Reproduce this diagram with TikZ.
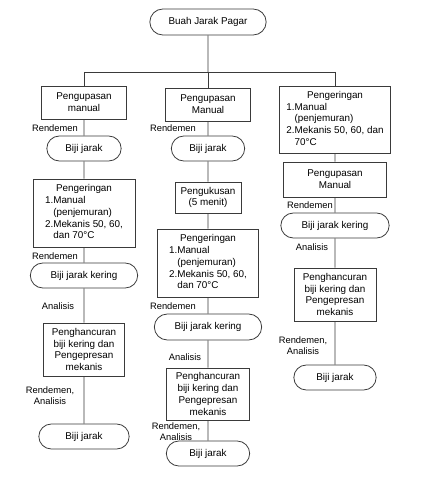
\documentclass[tikz,border=0pt]{standalone}
\usepackage{fontspec}
\setmainfont{Liberation Sans}
\usetikzlibrary{shapes.misc}
\definecolor{edge}{HTML}{3A3A3A}
\tikzset{
  flow/.style={draw=edge, line width=0.6pt},
  box/.style={draw=edge, line width=0.6pt, rectangle, align=center, inner sep=1pt, font=\fontsize{7.4}{8.8}\selectfont},
  term/.style={draw=edge, line width=0.6pt, rounded rectangle, align=center, inner sep=1pt, minimum height=18.75pt, font=\fontsize{7.4}{8.8}\selectfont},
  sz/.style 2 args={minimum width=#1*0.75pt, minimum height=#2*0.75pt},
  lbl/.style={font=\fontsize{7}{8.2}\selectfont, inner sep=0pt, align=center}
}
\newcommand{\dryitems}[2]{\begin{tabular}{@{}l@{}l@{}}\multicolumn{2}{c}{Pengeringan}\\1.&Manual\\&(penjemuran)\\2.&#1\\&#2\end{tabular}}

\begin{document}
\begin{tikzpicture}[x=0.75pt, y=-0.75pt]
  \useasboundingbox (0,0) rectangle (426,495);
  \def\ca{84}
  \def\cb{208}
  \def\cc{335}

  \node[term, sz={119}{26}] (buah) at (\cb,22) {Buah Jarak Pagar};
  \coordinate (jl) at (\ca,72);
  \coordinate (jt) at (\cb,72);
  \coordinate (jr) at (\cc,72);

  % kolom kiri
  \node[box, sz={85}{33}] (p1) at (\ca,102.5) {Pengupasan\\manual};
  \node[term, sz={77}{25}] (b1) at (\ca,148.5) {Biji jarak};
  \node[box, sz={102}{68}] (k1) at (\ca,213) {\dryitems{Mekanis 50, 60,}{dan 70°C}};
  \node[term, sz={110}{25}] (bk1) at (\ca,275.5) {Biji jarak kering};
  \node[box, sz={81}{53}] (h1) at (\ca,349.5) {Penghancuran\\biji kering dan\\Pengepresan\\mekanis};
  \node[term, sz={93}{25}] (bj1) at (\ca,436.5) {Biji jarak};
  \node[lbl, anchor=east] (r1a) at (78,128) {Rendemen};
  \node[lbl, anchor=east] (r1b) at (78,256) {Rendemen};
  \node[lbl] (a1) at (58,306) {Analisis};
  \node[lbl] (ra1) at (50,396) {Rendemen,\\Analisis};

  % kolom tengah
  \node[box, sz={85}{33}] (p2) at (\cb,104.5) {Pengupasan\\Manual};
  \node[term, sz={76}{25}] (b2) at (\cb,148.5) {Biji jarak};
  \node[box, sz={66}{31}] (u2) at (\cb,197.5) {Pengukusan\\(5 menit)};
  \node[box, sz={101}{68}] (k2) at (\cb,263) {\dryitems{Mekanis 50, 60,}{dan 70°C}};
  \node[term, sz={110}{26}] (bk2) at (\cb,327) {Biji jarak kering};
  \node[box, sz={83}{52}] (h2) at (\cb,394) {Penghancuran\\biji kering dan\\Pengepresan\\mekanis};
  \node[term, sz={86}{25}] (bj2) at (\cb,453.5) {Biji jarak};
  \node[lbl, anchor=east] (r2a) at (196,128) {Rendemen};
  \node[lbl, anchor=east] (r2b) at (196,306) {Rendemen};
  \node[lbl] (a2) at (185,357) {Analisis};
  \node[lbl] (ra2) at (176,431.5) {Rendemen,\\Analisis};

  % kolom kanan
  \node[box, sz={111}{67}] (k3) at (\cc,119.5) {\dryitems{Mekanis 50, 60, dan}{70°C}};
  \node[box, sz={103}{35}] (p3) at (\cc,179.5) {Pengupasan\\Manual};
  \node[term, sz={111}{25}] (bk3) at (\cc,225.5) {Biji jarak kering};
  \node[box, sz={82}{53}] (h3) at (\cc,294.5) {Penghancuran\\biji kering dan\\Pengepresan\\mekanis};
  \node[term, sz={85}{25}] (bj3) at (\cc,377.5) {Biji jarak};
  \node[lbl, anchor=east] (r3a) at (333,205) {Rendemen};
  \node[lbl] (a3) at (312,247) {Analisis};
  \node[lbl] (ra3) at (303,346) {Rendemen,\\Analisis};

  \draw[flow] (buah) -- (jt);
  \draw[flow] (jl) -- (jr);
  \draw[flow] (jl) -- (p1);
  \draw[flow] (jt) -- (p2);
  \draw[flow] (jr) -- (k3);
  \draw[flow] (p1) -- (b1) -- (k1) -- (bk1) -- (h1) -- (bj1);
  \draw[flow] (p2) -- (b2) -- (u2) -- (k2) -- (bk2) -- (h2) -- (bj2);
  \draw[flow] (k3) -- (p3) -- (bk3) -- (h3) -- (bj3);
\end{tikzpicture}
\end{document}
